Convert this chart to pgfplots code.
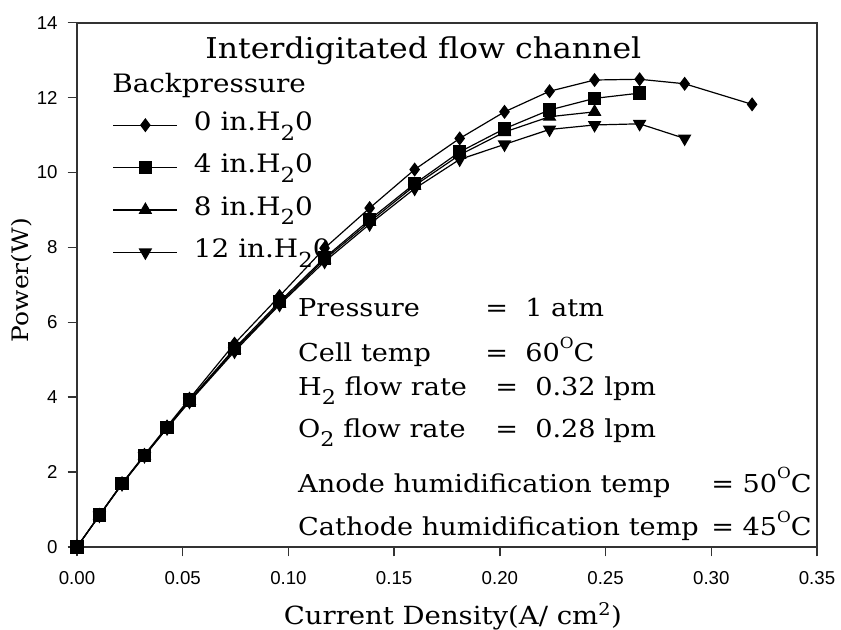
\documentclass[border=0pt]{standalone}
\usepackage{fontspec}
\setmainfont{DejaVu Serif}[FakeStretch=1.1]
\newfontfamily\tickfont{Liberation Sans}
\usepackage{pgfplots}
\pgfplotsset{compat=1.18}
\newcommand\sub[1]{\raisebox{-0.38em}{\scalebox{0.82}{#1}}}
\newcommand\degO{\raisebox{0.55em}{\scalebox{0.62}{O}}}
\begin{document}
\begin{tikzpicture}
\begin{axis}[
  scale only axis, width=555pt, height=393.2pt,
  xmin=0, xmax=0.35, ymin=0, ymax=14,
  xtick={0,0.05,0.10,0.15,0.20,0.25,0.30,0.35},
  ytick={0,2,4,6,8,10,12,14},
  tick align=outside, tick pos=left, major tick length=7pt,
  axis line style={line width=1.3pt, black!80},
  tick style={line width=1.1pt, black!80},
  /pgf/number format/assume math mode=true,
  xticklabel style={font=\tickfont\fontsize{14}{14}\selectfont, yshift=-8pt, /pgf/number format/.cd, fixed, fixed zerofill, precision=2},
  yticklabel style={font=\tickfont\fontsize{14}{14}\selectfont, xshift=-4pt},
  xlabel={Current Density(A/ cm\textsuperscript{2})},
  ylabel={Power(W)},
  xlabel style={font=\fontsize{18.75}{18.75}\selectfont, at={(rel axis cs:0.508,-0.147)}, anchor=base},
  ylabel style={font=\fontsize{17}{17}\selectfont, at={(rel axis cs:-0.0743,0.509)}, anchor=center},
  legend style={at={(rel axis cs:0.048,0.828)}, anchor=north west, draw=none, fill=none,
    font=\fontsize{19}{19}\selectfont, inner sep=0pt, row sep=13.8pt, column sep=12pt,
    nodes={inner sep=0pt, text height=13pt, text depth=5pt}},
  legend cell align=left,
  legend image code/.code={\draw[#1, mark repeat=2, mark phase=2] plot coordinates {(0pt,0pt) (24pt,0pt) (48pt,0pt)};},
  every axis plot/.append style={black, line width=0.9pt, mark options={solid, fill=black}},
  clip=false,
]
\addplot[mark=diamond*, mark size=4.6pt] coordinates {
(0,0) (0.0106,0.85) (0.0213,1.70) (0.0319,2.46) (0.0426,3.22) (0.0532,3.96) (0.0745,5.43) (0.0958,6.70) (0.1171,7.98) (0.1384,9.05) (0.1597,10.08) (0.1810,10.91) (0.2022,11.62) (0.2235,12.17) (0.2448,12.47) (0.2661,12.49) (0.2874,12.37) (0.3193,11.82)};
\addlegendentry{0 in.H\sub{2}0}
\addplot[mark=square*, mark size=4.6pt] coordinates {
(0,0) (0.0106,0.85) (0.0213,1.69) (0.0319,2.45) (0.0426,3.19) (0.0532,3.92) (0.0745,5.30) (0.0958,6.55) (0.1171,7.72) (0.1384,8.74) (0.1597,9.70) (0.1810,10.55) (0.2022,11.17) (0.2235,11.67) (0.2448,11.98) (0.2661,12.12)};
\addlegendentry{4 in.H\sub{2}0}
\addplot[mark=triangle*, mark size=5pt] coordinates {
(0,0) (0.0106,0.84) (0.0213,1.68) (0.0319,2.44) (0.0426,3.18) (0.0532,3.90) (0.0745,5.26) (0.0958,6.50) (0.1171,7.68) (0.1384,8.68) (0.1597,9.65) (0.1810,10.47) (0.2022,11.08) (0.2235,11.49) (0.2448,11.62)};
\addlegendentry{8 in.H\sub{2}0}
\addplot[mark=triangle*, mark size=5pt, mark options={rotate=180}] coordinates {
(0,0) (0.0106,0.84) (0.0213,1.68) (0.0319,2.43) (0.0426,3.17) (0.0532,3.88) (0.0745,5.22) (0.0958,6.47) (0.1171,7.62) (0.1384,8.62) (0.1597,9.57) (0.1810,10.35) (0.2022,10.75) (0.2235,11.15) (0.2448,11.27) (0.2661,11.30) (0.2874,10.91)};
\addlegendentry{12 in.H\sub{2}0}

\node[anchor=base, font=\fontsize{21.5}{21.5}\selectfont] at (rel axis cs:0.468,0.931) {Interdigitated flow channel};
\node[anchor=base west, font=\fontsize{19}{19}\selectfont, inner sep=0pt] at (rel axis cs:0.0473,0.8665) {Backpressure};

\begin{scope}[every node/.style={font=\fontsize{18.5}{18.5}\selectfont, inner sep=0pt}]
\node[anchor=base west] at (rel axis cs:0.2986,0.4392) {Pressure};
\node[anchor=base west] at (rel axis cs:0.5514,0.4392) {=\hspace{0.7em}1 atm};
\node[anchor=base west] at (rel axis cs:0.2986,0.3534) {Cell temp};
\node[anchor=base west] at (rel axis cs:0.5514,0.3534) {=\hspace{0.7em}60\degO C};
\node[anchor=base west] at (rel axis cs:0.2986,0.2899) {H\sub{2} flow rate};
\node[anchor=base west] at (rel axis cs:0.5649,0.2899) {=\hspace{0.7em}0.32 lpm};
\node[anchor=base west] at (rel axis cs:0.2986,0.2098) {O\sub{2} flow rate};
\node[anchor=base west] at (rel axis cs:0.5649,0.2098) {=\hspace{0.7em}0.28 lpm};
\node[anchor=base west] at (rel axis cs:0.2986,0.1043) {Anode humidification temp};
\node[anchor=base east] at (rel axis cs:0.9932,0.1043) {= 50\degO C};
\node[anchor=base west] at (rel axis cs:0.2986,0.021) {Cathode humidification temp};
\node[anchor=base east] at (rel axis cs:0.9932,0.021) {= 45\degO C};
\end{scope}
\end{axis}
\pgfresetboundingbox
\path (current axis.south west) ++(-57.75pt,-62.25pt) rectangle ++(630.75pt,472.5pt);
\end{tikzpicture}
\end{document}
